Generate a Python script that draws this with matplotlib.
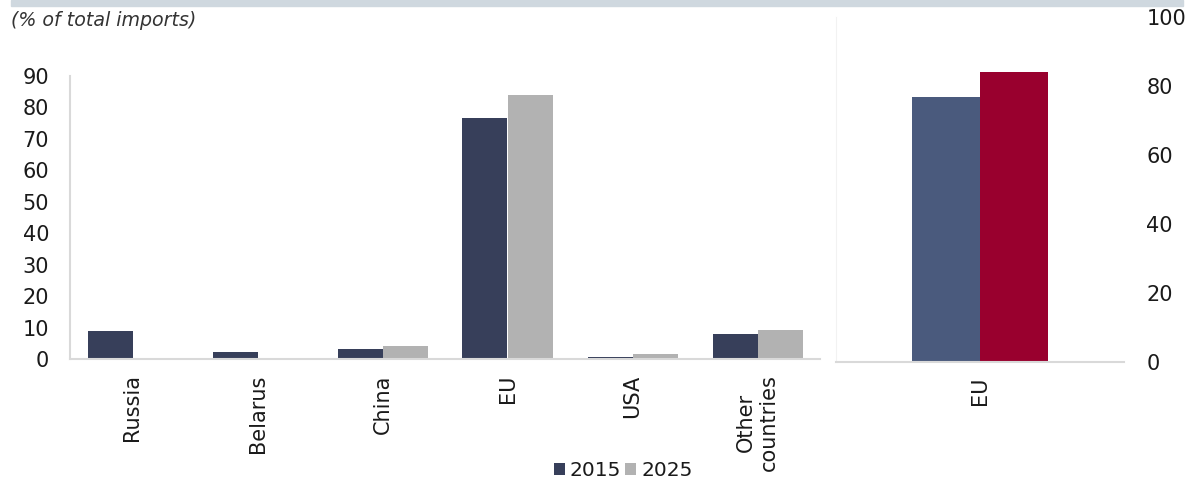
import matplotlib.pyplot as plt
import numpy as np

categories = ["Russia", "Belarus", "China", "EU", "USA", "Other\ncountries"]
share_2015 = [8.8, 2.1, 3.1, 76.5, 0.6, 8.0]
share_2025 = [0.3, 0.2, 4.1, 83.9, 1.5, 9.2]
eu_category = ["EU"]
eu_2015 = [76.7]
eu_2025 = [84.0]

plt.rcParams['font.family'] = ['DejaVu Sans']
FS = 15

fig = plt.figure(figsize=(11.88, 4.82), dpi=100)
W, H = 1188, 482

# gray strip at top
fig.patches.append(plt.Rectangle((11 / W, 1 - 6 / H), (1183 - 11) / W, 6 / H,
                                 transform=fig.transFigure, color='#cfd8df', zorder=0))
fig.text(11 / W, 1 - 21 / H, "(% of total imports)", style='italic', fontsize=13.7,
         color='#333333', va='center', ha='left')

ax = fig.add_axes([70 / W, 1 - 359 / H, (820 - 70) / W, (359 - 76) / H])
x = np.arange(len(categories))
w = 0.36
ax.bar(x - w / 2, share_2015, w, color='#373f5a', label='2015')
ax.bar(x + w / 2, share_2025, w, color='#b2b2b2', label='2025')
ax.set_xlim(-0.5, len(categories) - 0.5)
ax.set_ylim(0, 90)
ax.set_yticks(range(0, 91, 10))
ax.set_xticks(x)
ax.set_xticklabels(categories, rotation=90, fontsize=FS, ha='center', va='top',
                   multialignment='center')
ax.tick_params(axis='y', labelsize=FS, length=0, pad=15, labelcolor='#1a1a1a')
ax.tick_params(axis='x', length=0, pad=11, labelcolor='#1a1a1a')
for s in ['top', 'right']:
    ax.spines[s].set_visible(False)
for s in ['left', 'bottom']:
    ax.spines[s].set_color('#d9d9d9')
    ax.spines[s].set_linewidth(1.5)

fig.legend(loc='center', bbox_to_anchor=(623 / W, 1 - 471 / H), ncol=2, frameon=False,
           fontsize=14.5, handlelength=0.55, handleheight=0.55, handletextpad=0.25,
           columnspacing=0.2, labelcolor='#1a1a1a')

ax2 = fig.add_axes([836 / W, 1 - 361.7 / H, (1124 - 836) / W, (361.7 - 16.7) / H])
x2 = np.arange(len(eu_category))
w2 = 0.236
ax2.bar(x2 - w2 / 2, eu_2015, w2, color='#4a5a7d')
ax2.bar(x2 + w2 / 2, eu_2025, w2, color='#99002e')
ax2.set_xlim(-0.5, 0.5)
ax2.set_ylim(0, 100)
ax2.set_yticks(range(0, 101, 20))
ax2.yaxis.tick_right()
ax2.set_xticks(x2)
ax2.set_xticklabels(eu_category, rotation=90, fontsize=FS)
ax2.tick_params(axis='y', labelsize=FS, length=0, pad=16, labelcolor='#1a1a1a')
ax2.tick_params(axis='x', length=0, pad=11, labelcolor='#1a1a1a')
for s in ['top', 'right']:
    ax2.spines[s].set_visible(False)
ax2.spines['left'].set_color('#f2f2f2')
ax2.spines['bottom'].set_color('#d9d9d9')
ax2.spines['bottom'].set_linewidth(1.5)

fig.savefig("out.png", dpi=100)
